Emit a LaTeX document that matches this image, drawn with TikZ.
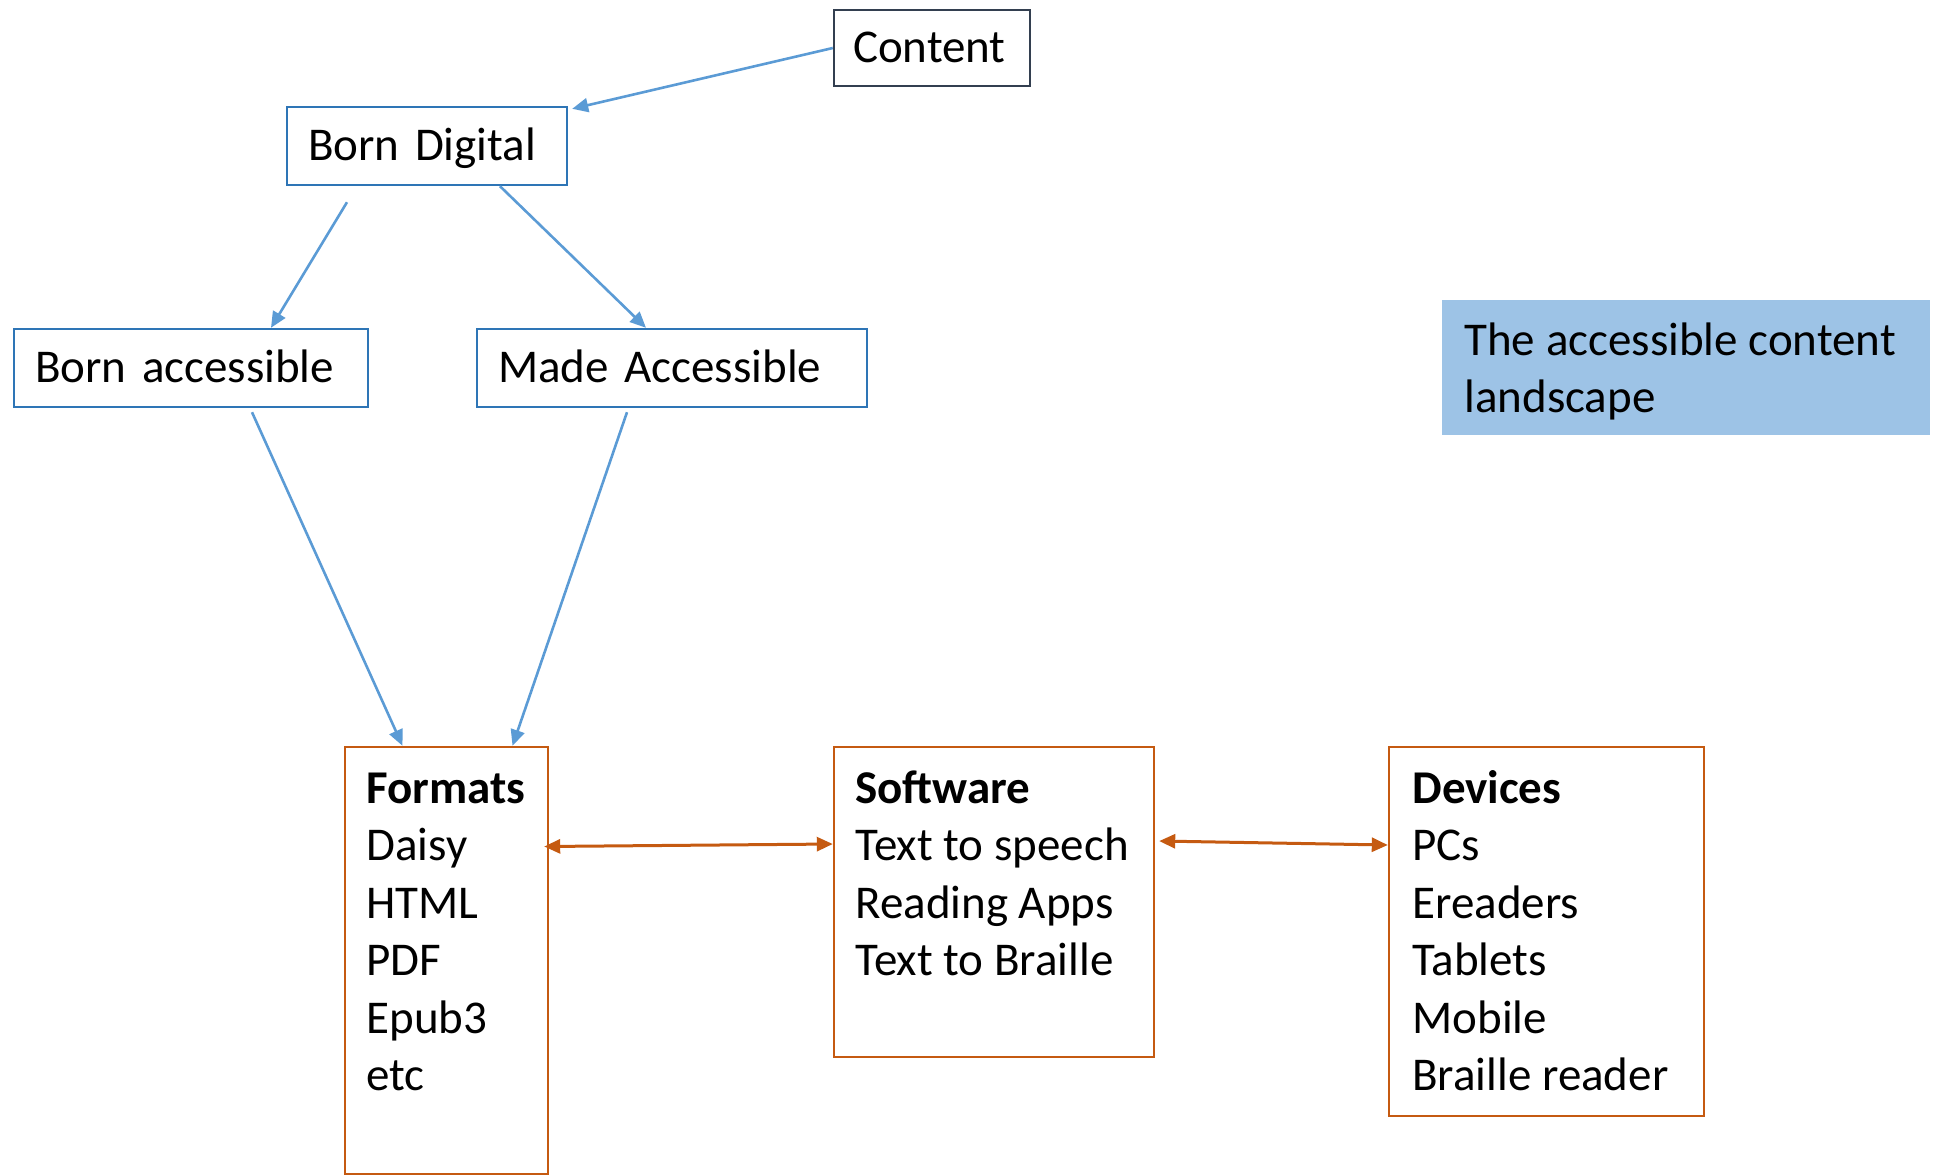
\documentclass[tikz,border=0pt]{standalone}
\usepackage{fontspec}
\setmainfont{Carlito}
\usetikzlibrary{arrows.meta}

\definecolor{lineblue}{HTML}{5B9BD5}
\definecolor{boxblue}{HTML}{2E75B6}
\definecolor{darkslate}{HTML}{333F50}
\definecolor{office orange}{HTML}{C55A11}
\definecolor{titlefill}{HTML}{9DC3E6}

\newcommand{\itemlist}[1]{\begin{tabular}[t]{@{}l@{}}#1\end{tabular}}

\begin{document}
\begin{tikzpicture}[x=0.5pt, y=-0.5pt,
    font=\fontsize{23.5}{28.75}\selectfont,
    onebox/.style={draw=boxblue, line width=1.2pt, align=left, inner xsep=10.5pt,
        minimum height=39pt, text height=14.8pt, text depth=0pt},
    listbox/.style={draw=office orange, line width=1.2pt},
    listtext/.style={inner sep=0pt, anchor=base west},
    bluearrow/.style={draw=lineblue, line width=1.3pt, -{Triangle[length=8pt,width=7pt]}},
    orangearrow/.style={draw=office orange, line width=1.5pt,
        {Triangle[length=8pt,width=7pt]}-{Triangle[length=8pt,width=7pt]}}]
    \useasboundingbox (0,0) rectangle (1934,1175);

    \node[onebox, draw=darkslate, inner xsep=9.5pt, text width=79pt, minimum height=38pt] (content) at (932, 48) {Content};
    \node[onebox, text width=119pt] (borndigital) at (427, 146) {Born Digital};
    \node[onebox, text width=156pt] (bornacc) at (191, 368) {Born accessible};
    \node[onebox, text width=174pt] (madeacc) at (672, 368) {Made Accessible};

    \node[fill=titlefill, minimum width=244pt, minimum height=67.5pt] (titlebox) at (1686, 367.5) {};
    \node[listtext] (titletext) at (1464, 355) {\itemlist{The accessible content\\landscape}};

    \node[listbox, minimum width=101.5pt, minimum height=213.5pt] (formats) at (446.5, 960.5) {};
    \node[listtext] (formatstext) at (366, 803) {\itemlist{\textbf{Formats}\\Daisy\\HTML\\PDF\\Epub3\\etc}};
    \node[listbox, minimum width=160pt, minimum height=155pt] (software) at (994, 902) {};
    \node[listtext] (softwaretext) at (855, 803) {\itemlist{\textbf{Software}\\Text to speech\\Reading Apps\\Text to Braille}};
    \node[listbox, minimum width=157.5pt, minimum height=184.5pt] (devices) at (1546.5, 931.5) {};
    \node[listtext] (devicestext) at (1412, 803) {\itemlist{\textbf{Devices}\\PCs\\Ereaders\\Tablets\\Mobile\\Braille reader}};

    \draw[bluearrow] (content.west) -- ([shift={(4,3)}]borndigital.north east);
    \draw[bluearrow] ([shift={(-80,16)}]borndigital.south) -- ([shift={(80,0)}]bornacc.north);
    \draw[bluearrow] ([shift={(73,0)}]borndigital.south) -- ([shift={(-26,0)}]madeacc.north);
    \draw[bluearrow] ([shift={(61,4)}]bornacc.south) -- ([shift={(-44,0)}]formats.north);
    \draw[bluearrow] ([shift={(-45,4)}]madeacc.south) -- ([shift={(66,0)}]formats.north);
    \draw[orangearrow] ([shift={(-5,-114)}]formats.east) -- ([shift={(0,-58)}]software.west);
    \draw[orangearrow] ([shift={(4,-61)}]software.east) -- ([shift={(0,-86.5)}]devices.west);
\end{tikzpicture}
\end{document}
